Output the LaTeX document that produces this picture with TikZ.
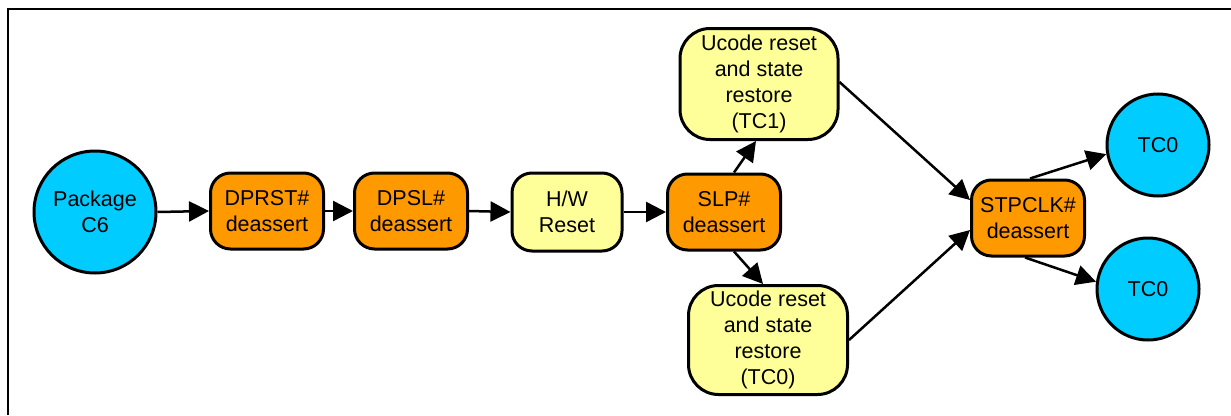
\documentclass[tikz,border=0pt]{standalone}
\usepackage{fontspec}
\setmainfont{Liberation Sans}
\usetikzlibrary{arrows.meta,calc}
\definecolor{cyanfill}{HTML}{00CCFF}
\definecolor{orangefill}{HTML}{FF9900}
\definecolor{yellowfill}{HTML}{FFFF99}
\begin{document}
\begin{tikzpicture}[x=1pt,y=-1pt,
  every node/.style={font=\fontsize{21.5}{26}\selectfont, align=center, inner sep=0pt},
  circ/.style={circle, draw, line width=3pt, fill=cyanfill},
  obox/.style={draw, line width=3pt, fill=orangefill, rounded corners=20pt, minimum width=113pt, minimum height=76pt},
  ybox/.style={draw, line width=3pt, fill=yellowfill, rounded corners=20pt, minimum width=110pt, minimum height=78pt},
  ubox/.style={draw, line width=3pt, fill=yellowfill, rounded corners=30pt, minimum width=158pt, minimum height=111pt},
  conn/.style={line width=2.5pt, -{Triangle[length=20pt,width=20pt]}}
]
\useasboundingbox (0,0) rectangle (1231,415);
\draw[line width=2.5pt] (8,415) -- (8,9) -- (1231,9);

\node[circ, minimum size=122pt] (pkg) at (95,212) {Package\\C6};
\node[obox] (dprst) at (267,211) {DPRST\#\\deassert};
\node[obox] (dpsl) at (411,211) {DPSL\#\\deassert};
\node[ybox] (hw) at (567,212) {H/W\\Reset};
\node[obox] (slp) at (724,212) {SLP\#\\deassert};
\node[ubox] (tc1) at (759,84) {Ucode reset\\and state\\restore\\(TC1)};
\node[ubox, minimum width=159pt, minimum height=109pt] (tc0u) at (768,340) {Ucode reset\\and state\\restore\\(TC0)};
\node[obox] (stp) at (1028,218) {STPCLK\#\\deassert};
\node[circ, minimum size=102pt] (tca) at (1158,145) {TC0};
\node[circ, minimum size=102pt] (tcb) at (1148,289) {TC0};

\draw[conn] (pkg.east) -- (dprst.west);
\draw[conn] (dprst.east) -- (dpsl.west);
\draw[conn] (dpsl.east) -- (hw.west);
\draw[conn] (hw.east) -- (slp.west);
\draw[conn] ($(slp.north)+(10,0)$) -- ($(tc1.south)+(-3,0)$);
\draw[conn] ($(slp.south)+(10,0)$) -- ($(tc0u.north)+(-5,0)$);
\draw[conn] ($(tc1.east)+(0,-2)$) -- ($(stp.west)+(0,-18)$);
\draw[conn] (tc0u.east) -- ($(stp.west)+(0,12)$);
\draw[conn] ($(stp.north)+(2,0)$) -- (tca.190);
\draw[conn] ($(stp.south)+(-3,0)$) -- (tcb.172);
\end{tikzpicture}
\end{document}
